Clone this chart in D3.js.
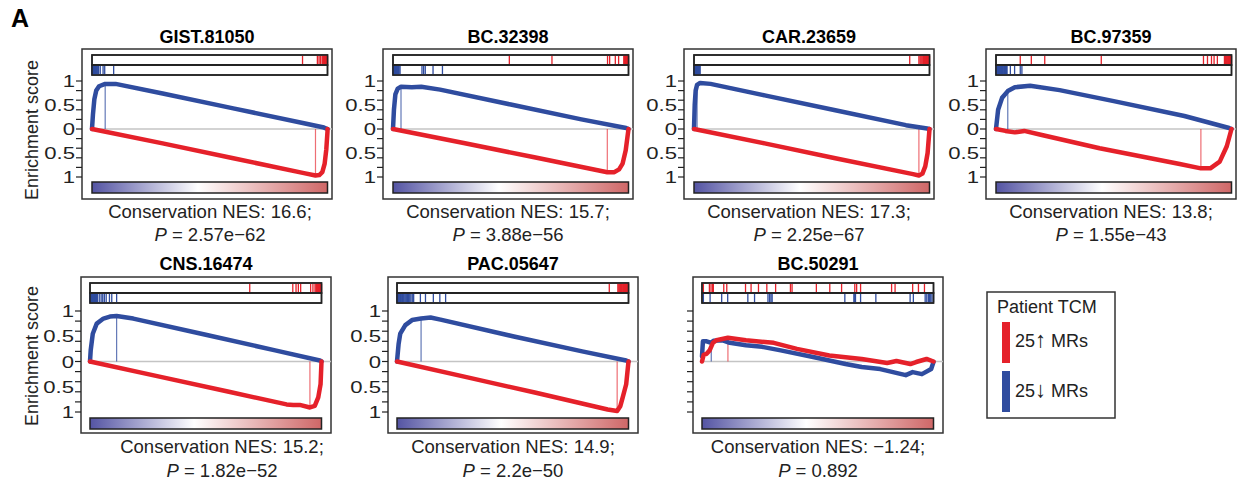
<!DOCTYPE html>
<meta charset="utf-8">
<style>
body { margin: 0; background: #fff; }
svg { font-family: "Liberation Sans", Arial, sans-serif; }
.frame { fill: none; stroke: #333; stroke-width: 1.5; }
.strip { fill: #fff; stroke: #222; stroke-width: 1.5; }
.tick { stroke: #222; stroke-width: 1.2; }
.zero { stroke: #c4c4c4; stroke-width: 1.5; }
.curve { fill: none; stroke-width: 4.5; stroke-linejoin: round; stroke-linecap: round; }
</style>
<body>
<svg width="1244" height="485"></svg>
<script src="https://d3js.org/d3.v7.min.js"></script>
<script>
var names = ["GIST.81050", "BC.32398", "CAR.23659", "BC.97359", "CNS.16474", "PAC.05647", "BC.50291"];
var nes = ["16.6", "15.7", "17.3", "13.8", "15.2", "14.9", "\u22121.24"];
var pvals = ["2.57e\u221262", "3.88e\u221256", "2.25e\u221267", "1.55e\u221243", "1.82e\u221252", "2.2e\u221250", "0.892"];

// hit positions in the ranked list (0 = left, 1 = right)
var redHits = [
  [0.894, 0.957, 0.964, 0.970, 0.977, 0.980, 0.982, 0.984, 0.986, 0.988, 0.989, 0.990, 0.991, 0.992, 0.993, 0.994, 0.995, 0.996, 0.997, 0.997, 0.998, 0.998, 0.999, 0.999, 1.0],
  [0.494, 0.675, 0.911, 0.920, 0.944, 0.958, 0.980, 0.983, 0.985, 0.987, 0.989, 0.990, 0.991, 0.992, 0.993, 0.994, 0.995, 0.996, 0.997, 0.997, 0.998, 0.998, 0.999, 0.999, 1.0],
  [0.916, 0.955, 0.960, 0.964, 0.968, 0.972, 0.975, 0.978, 0.980, 0.982, 0.984, 0.986, 0.988, 0.989, 0.990, 0.991, 0.992, 0.993, 0.994, 0.995, 0.996, 0.997, 0.998, 0.999, 1.0],
  [0.103, 0.150, 0.207, 0.447, 0.881, 0.898, 0.915, 0.926, 0.940, 0.970, 0.975, 0.978, 0.981, 0.984, 0.986, 0.988, 0.990, 0.992, 0.993, 0.994, 0.995, 0.996, 0.997, 0.999, 1.0],
  [0.690, 0.876, 0.890, 0.900, 0.910, 0.953, 0.963, 0.972, 0.976, 0.979, 0.982, 0.984, 0.986, 0.988, 0.990, 0.991, 0.992, 0.993, 0.994, 0.995, 0.996, 0.997, 0.998, 0.999, 1.0],
  [0.917, 0.954, 0.958, 0.962, 0.966, 0.970, 0.973, 0.976, 0.979, 0.981, 0.983, 0.985, 0.987, 0.989, 0.990, 0.991, 0.992, 0.993, 0.994, 0.995, 0.996, 0.997, 0.998, 0.999, 1.0],
  [0.006, 0.032, 0.039, 0.046, 0.049, 0.094, 0.107, 0.188, 0.212, 0.244, 0.280, 0.318, 0.382, 0.389, 0.494, 0.552, 0.603, 0.660, 0.668, 0.685, 0.819, 0.834, 0.910, 0.935, 0.961]
];
var blueHits = [
  [0, 0.001, 0.002, 0.003, 0.004, 0.005, 0.006, 0.007, 0.008, 0.009, 0.010, 0.011, 0.012, 0.013, 0.014, 0.016, 0.018, 0.020, 0.022, 0.025, 0.028, 0.035, 0.047, 0.054, 0.092],
  [0, 0.002, 0.004, 0.005, 0.006, 0.007, 0.008, 0.009, 0.010, 0.011, 0.012, 0.013, 0.014, 0.015, 0.016, 0.018, 0.020, 0.023, 0.026, 0.030, 0.123, 0.130, 0.137, 0.170, 0.210],
  [0, 0.001, 0.002, 0.003, 0.004, 0.005, 0.006, 0.007, 0.008, 0.009, 0.010, 0.011, 0.012, 0.013, 0.014, 0.015, 0.016, 0.017, 0.018, 0.019, 0.020, 0.021, 0.022, 0.024, 0.026],
  [0, 0.002, 0.004, 0.006, 0.008, 0.010, 0.012, 0.014, 0.016, 0.018, 0.020, 0.022, 0.024, 0.026, 0.028, 0.030, 0.033, 0.036, 0.040, 0.044, 0.047, 0.061, 0.079, 0.103, 0.110],
  [0, 0.002, 0.004, 0.006, 0.008, 0.010, 0.012, 0.014, 0.016, 0.018, 0.020, 0.022, 0.024, 0.026, 0.028, 0.030, 0.032, 0.040, 0.048, 0.055, 0.062, 0.070, 0.084, 0.094, 0.115],
  [0, 0.003, 0.006, 0.009, 0.012, 0.015, 0.018, 0.021, 0.024, 0.027, 0.030, 0.034, 0.038, 0.042, 0.046, 0.050, 0.055, 0.060, 0.066, 0.072, 0.101, 0.123, 0.157, 0.185, 0.210],
  [0.006, 0.035, 0.085, 0.111, 0.198, 0.227, 0.285, 0.292, 0.298, 0.303, 0.617, 0.656, 0.660, 0.663, 0.685, 0.751, 0.899, 0.913, 0.964, 0.971, 0.978, 0.983, 0.986, 0.993, 1.0]
];

// running enrichment score, [position, score]; red plotted downward
var blueCurves = [
  [[0,0],[0.004,0.3],[0.01,0.62],[0.018,0.8],[0.03,0.89],[0.056,0.94],[0.1,0.94],[0.3,0.74],[0.6,0.43],[0.9,0.12],[0.985,0.03],[1,0]],
  [[0,0],[0.004,0.4],[0.01,0.72],[0.02,0.84],[0.034,0.88],[0.08,0.87],[0.12,0.88],[0.2,0.82],[0.5,0.51],[0.8,0.2],[0.99,0.02],[1,0]],
  [[0,0],[0.003,0.5],[0.007,0.8],[0.013,0.92],[0.026,0.96],[0.07,0.94],[0.3,0.7],[0.6,0.39],[0.9,0.08],[0.99,0.01],[1,0]],
  [[0,0],[0.009,0.4],[0.026,0.65],[0.05,0.79],[0.08,0.87],[0.145,0.9],[0.27,0.81],[0.5,0.58],[0.8,0.27],[0.99,0.02],[1,0]],
  [[0,0],[0.003,0.22],[0.012,0.55],[0.029,0.75],[0.058,0.85],[0.086,0.89],[0.115,0.9],[0.187,0.85],[0.5,0.53],[0.8,0.22],[0.993,0.02],[1,0]],
  [[0,0],[0.007,0.35],[0.014,0.55],[0.036,0.72],[0.065,0.82],[0.104,0.85],[0.145,0.87],[0.188,0.83],[0.5,0.5],[0.8,0.2],[0.99,0.02],[1,0]],
  [[0,0.1],[0.004,0.4],[0.02,0.4],[0.04,0.37],[0.05,0.41],[0.09,0.42],[0.12,0.37],[0.19,0.32],[0.26,0.29],[0.34,0.22],[0.48,0.09],[0.62,-0.05],[0.69,-0.11],[0.77,-0.15],[0.88,-0.27],[0.91,-0.21],[0.95,-0.25],[0.99,-0.15],[1,-0.01]]
];
var redCurves = [
  [[0,0],[0.3,-0.3],[0.6,-0.61],[0.9,-0.92],[0.949,-0.97],[0.965,-0.96],[0.978,-0.9],[0.988,-0.72],[0.995,-0.42],[1,-0.05],[1,0]],
  [[0,0],[0.3,-0.29],[0.6,-0.59],[0.91,-0.9],[0.94,-0.9],[0.96,-0.84],[0.975,-0.72],[0.988,-0.45],[1,0]],
  [[0,0],[0.3,-0.3],[0.6,-0.61],[0.93,-0.94],[0.955,-0.97],[0.97,-0.93],[0.982,-0.78],[0.992,-0.5],[1,0]],
  [[0,0],[0.04,-0.04],[0.08,-0.07],[0.12,-0.04],[0.19,-0.12],[0.44,-0.4],[0.78,-0.73],[0.87,-0.82],[0.91,-0.82],[0.95,-0.68],[0.98,-0.36],[1,0]],
  [[0,0],[0.3,-0.3],[0.6,-0.6],[0.849,-0.85],[0.878,-0.86],[0.906,-0.86],[0.95,-0.91],[0.971,-0.88],[0.986,-0.71],[0.996,-0.45],[1,0]],
  [[0,0],[0.3,-0.31],[0.6,-0.62],[0.91,-0.95],[0.951,-0.98],[0.965,-0.88],[0.975,-0.71],[0.99,-0.45],[1,0]],
  [[0,0],[0.007,0.13],[0.019,0.15],[0.033,0.22],[0.047,0.37],[0.062,0.42],[0.112,0.47],[0.19,0.42],[0.31,0.37],[0.41,0.25],[0.55,0.12],[0.69,0.05],[0.8,-0.03],[0.84,0.01],[0.9,-0.05],[0.925,-0.01],[0.97,0.05],[1,0]]
];
// leading edge markers
var blueLead = [[0.056,0.94],[0.034,0.88],[0.013,0.92],[0.05,0.79],[0.115,0.9],[0.104,0.85],[0.04,0.37]];
var redLead = [[0.949,-0.97],[0.91,-0.9],[0.955,-0.97],[0.87,-0.82],[0.95,-0.91],[0.951,-0.98],[0.112,0.47]];

var tickVals = [1, 0.8, 0.6, 0.4, 0.2, 0, -0.2, -0.4, -0.6, -0.8, -1];
var labelVals = [1, 0.5, 0, -0.5, -1];
var legendCounts = ["25", "25"];
var legendArrows = ["\u2191", "\u2193"];

var RED = "#e5212a", BLUE = "#2f4c9f";

// layout
var rows = [
  {top: 49, h: 150, y1: 81, ym1: 177, gTop: 182, gH: 11, title: 43, cap1: 218, cap2: 241, inL: 10, inR: 245.5},
  {top: 277, h: 156, y1: 311, ym1: 412, gTop: 418, gH: 11, title: 270, cap1: 453, cap2: 477, inL: 9, inR: 240.5}
];
var lefts = [82, 383, 684, 986, 81, 388, 693];
var capShift = [3, 0, 0, 0, 16, 0, 0];
var W = 250;

var svg = d3.select("svg");

var defs = svg.append("defs");
var grad = defs.append("linearGradient").attr("id", "rank");
grad.append("stop").attr("offset", "0%").attr("stop-color", "#5454a3");
grad.append("stop").attr("offset", "45%").attr("stop-color", "#ffffff");
grad.append("stop").attr("offset", "100%").attr("stop-color", "#cf6767");

svg.append("text").attr("x", 11).attr("y", 27)
    .style("font-size", "25px").style("font-weight", "bold").text("A");

names.forEach(function(name, i) {
  var r = rows[i < 4 ? 0 : 1];
  var L = lefts[i];
  var x = d3.scaleLinear().domain([0, 1]).range([L + r.inL, L + r.inR]);
  var y = d3.scaleLinear().domain([-1, 1]).range([r.ym1, r.y1]);
  var g = svg.append("g");

  g.append("text").attr("x", L + W / 2).attr("y", r.title)
      .attr("text-anchor", "middle").style("font-size", "18px").style("font-weight", "bold")
      .text(name);

  g.append("rect").attr("class", "frame")
      .attr("x", L).attr("y", r.top).attr("width", W).attr("height", r.h);

  // hit strips
  var s1 = r.top + 6, s2 = r.top + 16, sh = 10;
  g.append("rect").attr("class", "strip")
      .attr("x", x(0)).attr("y", s1).attr("width", x(1) - x(0)).attr("height", sh);
  g.append("rect").attr("class", "strip")
      .attr("x", x(0)).attr("y", s2).attr("width", x(1) - x(0)).attr("height", sh);
  g.selectAll(".rh").data(redHits[i]).enter().append("line")
      .attr("x1", function(d) { return x(d); }).attr("x2", function(d) { return x(d); })
      .attr("y1", s1 + 0.8).attr("y2", s1 + sh - 0.8)
      .attr("stroke", RED).attr("stroke-width", 1.3);
  g.selectAll(".bh").data(blueHits[i]).enter().append("line")
      .attr("x1", function(d) { return x(d); }).attr("x2", function(d) { return x(d); })
      .attr("y1", s2 + 0.8).attr("y2", s2 + sh - 0.8)
      .attr("stroke", BLUE).attr("stroke-width", 1.3);
  g.append("rect").attr("class", "strip").style("fill", "none")
      .attr("x", x(0)).attr("y", s1).attr("width", x(1) - x(0)).attr("height", sh);
  g.append("rect").attr("class", "strip").style("fill", "none")
      .attr("x", x(0)).attr("y", s2).attr("width", x(1) - x(0)).attr("height", sh);

  // y axis ticks
  g.selectAll(".tick").data(tickVals).enter().append("line")
      .attr("class", "tick")
      .attr("x1", L - 6).attr("x2", L)
      .attr("y1", function(d) { return y(d); }).attr("y2", function(d) { return y(d); });
  if (i != 6) {
    g.selectAll(".lab").data(labelVals).enter().append("text")
        .attr("transform", function(d) { return "translate(" + (L - 7) + "," + (y(d) + 6) + ") scale(1.3,1)"; })
        .attr("text-anchor", "end").style("font-size", "17px").style("fill", "#222")
        .text(function(d) { return Math.abs(d); });
  }

  g.append("line").attr("class", "zero")
      .attr("x1", x(0)).attr("x2", L + W).attr("y1", y(0)).attr("y2", y(0));

  // leading edge lines
  g.append("line").attr("x1", x(blueLead[i][0])).attr("x2", x(blueLead[i][0]))
      .attr("y1", y(0)).attr("y2", y(blueLead[i][1]))
      .attr("stroke", BLUE).attr("stroke-opacity", 0.75).attr("stroke-width", 1.2);
  g.append("line").attr("x1", x(redLead[i][0])).attr("x2", x(redLead[i][0]))
      .attr("y1", y(0)).attr("y2", y(redLead[i][1]))
      .attr("stroke", RED).attr("stroke-opacity", 0.65).attr("stroke-width", 1.2);

  var line = d3.line()
      .x(function(d) { return x(d[0]); })
      .y(function(d) { return y(d[1]); });
  g.append("path").attr("class", "curve").attr("stroke", BLUE).attr("d", line(blueCurves[i]));
  g.append("path").attr("class", "curve").attr("stroke", RED).attr("d", line(redCurves[i]));

  // ranked list gradient
  g.append("rect").attr("x", x(0)).attr("y", r.gTop)
      .attr("width", x(1) - x(0)).attr("height", r.gH)
      .attr("fill", "url(#rank)").attr("stroke", "#222").attr("stroke-width", 1.5);

  var cx = L + W / 2 + capShift[i];
  g.append("text").attr("x", cx).attr("y", r.cap1)
      .attr("text-anchor", "middle").style("font-size", "18.5px").style("fill", "#222")
      .text("Conservation NES: " + nes[i] + ";");
  var t2 = g.append("text").attr("x", cx).attr("y", r.cap2)
      .attr("text-anchor", "middle").style("font-size", "18.5px").style("fill", "#222");
  t2.append("tspan").style("font-style", "italic").text("P");
  t2.append("tspan").text(" = " + pvals[i]);
});

// y axis titles
[130, 356].forEach(function(cy) {
  svg.append("text").attr("transform", "translate(38," + cy + ") rotate(-90)")
      .attr("text-anchor", "middle").style("font-size", "18px").style("fill", "#222")
      .text("Enrichment score");
});

// legend
var leg = svg.append("g");
leg.append("rect").attr("class", "frame").attr("x", 987).attr("y", 292).attr("width", 128).attr("height", 126);
leg.append("text").attr("x", 997).attr("y", 313).style("font-size", "18px").style("fill", "#222").text("Patient TCM");
leg.selectAll(".sw").data(legendCounts).enter().append("rect")
    .attr("x", 1002).attr("y", function(d, k) { return 322 + k * 49; })
    .attr("width", 8).attr("height", 41)
    .attr("fill", function(d, k) { return k == 0 ? RED : BLUE; });
var lt = leg.selectAll(".lt").data(legendCounts).enter().append("text")
    .attr("x", 1015).attr("y", function(d, k) { return 347 + k * 50; })
    .style("font-size", "18px").style("fill", "#222");
lt.append("tspan").text(function(d) { return d; });
lt.append("tspan").style("font-size", "22px").style("font-weight", "300")
    .text(function(d, k) { return legendArrows[k]; });
lt.append("tspan").text(" MRs");
</script>
</body>
